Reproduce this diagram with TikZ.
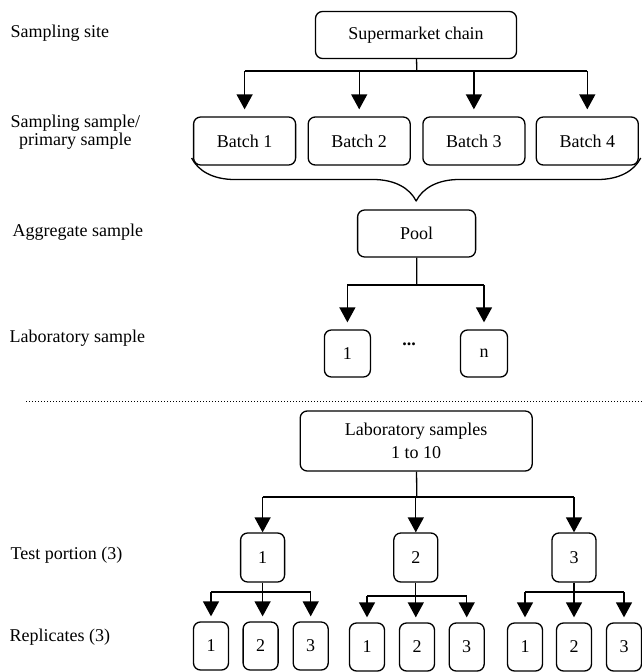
\documentclass[tikz,border=0pt]{standalone}
\usepackage{fontspec}
\setmainfont{Liberation Serif}
\usetikzlibrary{arrows.meta,decorations.pathreplacing}
\tikzset{
	hop/.style={draw,line width=1.3pt,rounded corners=7pt,inner sep=0pt,align=center},
	nhan/.style={anchor=west,inner sep=0pt,align=center},
}
\begin{document}
\begin{tikzpicture}[x=1pt,y=-1pt,line join=round,line width=1.3pt,>={Triangle[width=16pt,length=15pt]},font=\fontsize{18}{18}\selectfont]
				\useasboundingbox (0,0) rectangle (642,672);
				\path 
				(416.8,71) coordinate (ng1)
				(416.8,285) coordinate (ng2)
				(416.8,497) coordinate (ng3)
				(262.6,592) coordinate (nt1)
				(416,596) coordinate (nt2)
				(574,592) coordinate (nt3)
				(26,401) coordinate (M)
				(642,401) coordinate (N)
				;
				% nhan ben trai
				\node[nhan] (lsite) at (10,33) {Sampling site};
				\node[nhan] (lprim) at (10,132) {Sampling sample/\\primary sample};
				\node[nhan] (lagg) at (12,232) {Aggregate sample};
				\node[nhan] (llab) at (9,338) {Laboratory sample};
				\node[nhan] (ltest) at (10,555) {Test portion (3)};
				\node[nhan] (lrep) at (9,637) {Replicates (3)};
				% phan tren
				\node[hop,minimum width=201pt,minimum height=47pt] (super) at (416,35) {Supermarket chain};
				\foreach \i/\x in {1/244.6,2/359.2,3/473.9,4/587.3}
				\node[hop,minimum width=102pt,minimum height=48pt] (b\i) at (\x,141) {Batch \i};
				\node[hop,minimum width=118pt,minimum height=47pt] (pool) at (416.6,233.5) {Pool};
				\node[hop,minimum width=46pt,minimum height=47pt] (lab1) at (347.4,353.5) {1};
				\node[hop,minimum width=47pt,minimum height=47pt] (labn) at (484,353.5) {n};
				\node (dots) at (409,344) {\textbf{...}};
				\draw (super) -- (ng1);
				\draw (ng1 -| b1) -- (ng1 -| b4);
				\foreach \i in {1,...,4}
				\draw[->,shorten >=7pt] (ng1 -| b\i) -- (b\i.north);
				\draw[decorate,decoration={brace,mirror,amplitude=43pt}] (191.6,158) -- (640.7,158);
				\draw (pool) -- (ng2);
				\draw (ng2 -| lab1) -- (ng2 -| labn);
				\foreach \i in {lab1,labn}
				\draw[->,shorten >=7pt] (ng2 -| \i) -- (\i.north);
				% duong cham
				\draw[line width=1pt,dotted] (M) -- (N);
				% phan duoi
				\node[hop,minimum width=232pt,minimum height=60pt,font=\fontsize{18}{22.5}\selectfont] (labs) at (416.2,441) {Laboratory samples\\1 to 10};
				\foreach \g/\x in {1/262.6,2/415.8,3/574}
				\node[hop,minimum width=44pt,minimum height=49pt] (t\g) at (\x,557.5) {\g};
				\foreach \g/\xa/\xb/\xc/\yy in {1/211/260.6/310.7/646,2/367/417/466.7/647,3/525/574/624/647}
				{
					\foreach \j/\x in {1/\xa,2/\xb,3/\xc}
					\node[hop,minimum width=35pt,minimum height=48pt] (r\g\j) at (\x,\yy) {\j};
				}
				\draw (labs) -- (ng3);
				\draw (ng3 -| t1) -- (ng3 -| t3);
				\foreach \g in {1,2,3}
				\draw[->] (ng3 -| t\g) -- (t\g.north);
				\foreach \g in {1,2,3}
				{
					\draw (nt\g -| r\g1) -- (nt\g -| r\g3);
					\draw[->,shorten >=5pt] (t\g) -- (t\g |- r\g2.north);
					\draw[->,shorten >=5pt] (nt\g -| r\g1) -- (r\g1.north);
					\draw[->,shorten >=5pt] (nt\g -| r\g3) -- (r\g3.north);
				}
			\end{tikzpicture}
\end{document}
